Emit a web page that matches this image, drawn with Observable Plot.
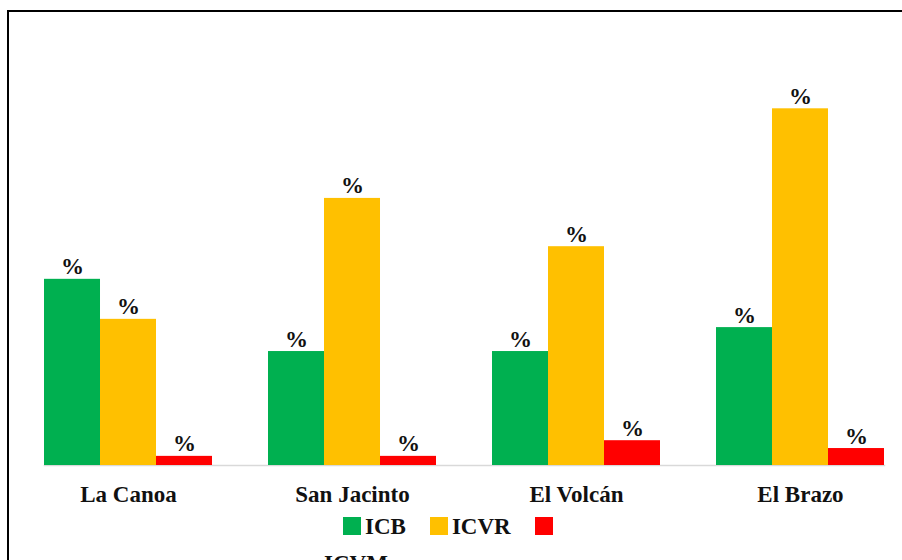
<!DOCTYPE html>
<html>
<head>
<meta charset="utf-8">
<script src="https://cdn.jsdelivr.net/npm/d3@7"></script>
<script src="https://cdn.jsdelivr.net/npm/@observablehq/plot@0.6"></script>
<style>
  html, body { margin: 0; padding: 0; background: #fff; }
  body { width: 902px; height: 560px; overflow: hidden; position: relative; }
  #wrap {
    position: absolute; left: 7px; top: 10px;
    border-top: 2px solid #000; border-left: 2px solid #000;
    width: 900px; height: 560px;
  }
  #wrap svg { display: block; }
  #legend {
    margin-left: 311px; width: 260px;
    text-indent: 23px;
    font-family: "Liberation Serif", "DejaVu Serif", serif;
    font-weight: bold; font-size: 23px; line-height: 37px; color: #111;
  }
  #legend .item { margin-right: 24px; }
  #legend .sw { display: inline-block; width: 18px; height: 18px; vertical-align: -1px; }
  #legend .lab { margin-left: 4px; }
</style>
</head>
<body>
<div id="wrap"><div id="chart"></div><div id="legend"></div></div>
<script>
const sites = ["La Canoa", "San Jacinto", "El Volcán", "El Brazo"];
const series = ["ICB", "ICVR", "ICVM"];
const colors = ["#00B050", "#FFC000", "#FF0000"];
const icb = [42.8, 26.2, 26.2, 31.7];
const icvr = [33.6, 61.4, 50.3, 82.0];
const icvm = [2.1, 2.1, 5.7, 3.9];
const valueLabel = "%";

const values = {ICB: icb, ICVR: icvr, ICVM: icvm};
const data = sites.flatMap((s, i) => series.map(k => ({site: s, series: k, value: values[k][i]})));

const serif = "Liberation Serif, DejaVu Serif, serif";

const chart = Plot.plot({
  width: 893,
  height: 496,
  marginLeft: 7,
  marginRight: 0,
  marginTop: 18,
  marginBottom: 43,
  style: {fontFamily: serif, background: "transparent", overflow: "visible", color: "#111"},
  fx: {domain: sites, paddingInner: 0.25, paddingOuter: 0.1027, align: 0.6087, round: false, label: null},
  x: {domain: series, padding: 0, round: false, axis: null},
  y: {domain: [0, 100], axis: null},
  color: {domain: series, range: colors},
  marks: [
    Plot.frame({anchor: "bottom", facet: "super", stroke: "#d9d9d9", strokeWidth: 1.5}),
    Plot.barY(data, {fx: "site", x: "series", y: "value", fill: "series"}),
    Plot.text(data, {fx: "site", x: "series", y: "value", text: () => valueLabel, dy: -5, lineAnchor: "bottom", fontSize: 23, fontWeight: "bold", fontFamily: serif, fill: "#111"}),
    Plot.axisFx({anchor: "bottom", tickSize: 0, tickPadding: 20, fontSize: 23, fontWeight: "bold", fontFamily: serif, fill: "#111", label: null})
  ]
});
document.getElementById("chart").appendChild(chart);

const legend = document.getElementById("legend");
series.forEach((k, i) => {
  const item = document.createElement("span");
  item.className = "item";
  const sw = document.createElement("span");
  sw.className = "sw";
  sw.style.background = colors[i];
  item.appendChild(sw);
  item.appendChild(document.createElement("wbr"));
  const lab = document.createElement("span");
  lab.className = "lab";
  lab.textContent = k;
  item.appendChild(lab);
  legend.appendChild(item);
});
</script>
</body>
</html>
